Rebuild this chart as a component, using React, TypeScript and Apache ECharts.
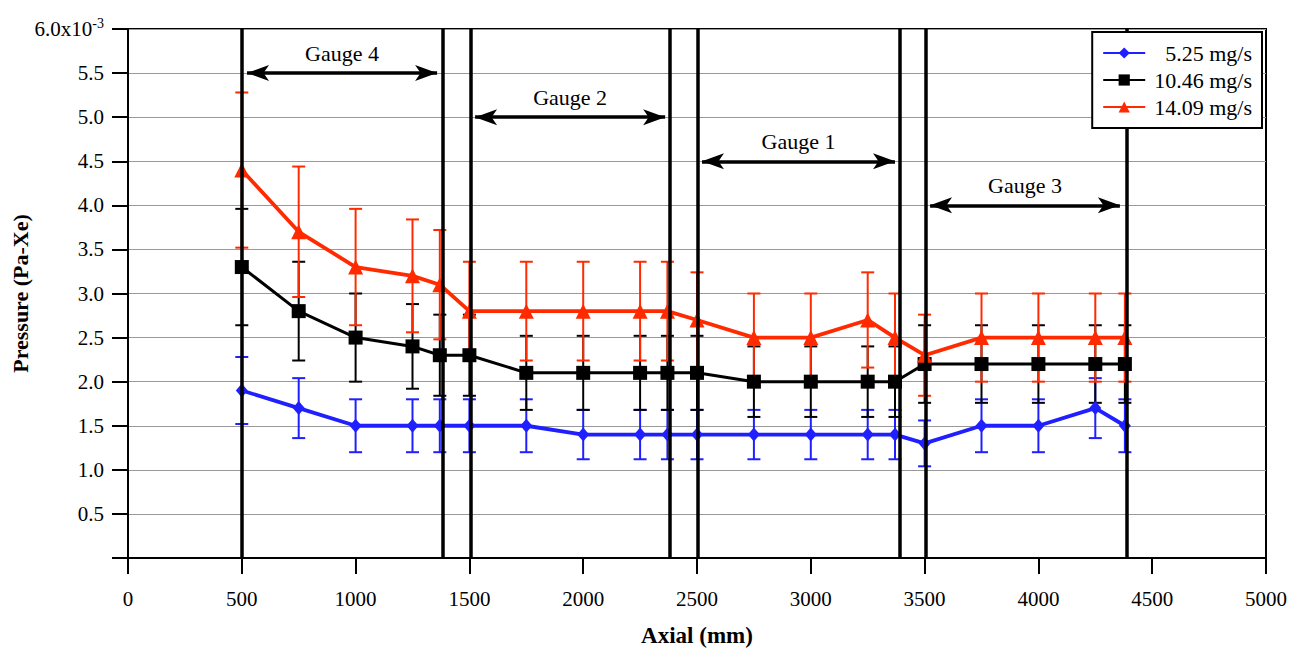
import React, { useEffect, useRef } from "react";
import * as echarts from "echarts";

const axialMm = [500, 750, 1000, 1250, 1370, 1500, 1750, 2000, 2250, 2370, 2500, 2750, 3000, 3250, 3370, 3500, 3750, 4000, 4250, 4380];

const flow525 = [1.9, 1.7, 1.5, 1.5, 1.5, 1.5, 1.5, 1.4, 1.4, 1.4, 1.4, 1.4, 1.4, 1.4, 1.4, 1.3, 1.5, 1.5, 1.7, 1.5];
const err525 = [0.38, 0.34, 0.3, 0.3, 0.3, 0.3, 0.3, 0.28, 0.28, 0.28, 0.28, 0.28, 0.28, 0.28, 0.28, 0.26, 0.3, 0.3, 0.34, 0.3];

const flow1046 = [3.3, 2.8, 2.5, 2.4, 2.3, 2.3, 2.1, 2.1, 2.1, 2.1, 2.1, 2.0, 2.0, 2.0, 2.0, 2.2, 2.2, 2.2, 2.2, 2.2];
const err1046 = [0.66, 0.56, 0.5, 0.48, 0.46, 0.46, 0.42, 0.42, 0.42, 0.42, 0.42, 0.4, 0.4, 0.4, 0.4, 0.44, 0.44, 0.44, 0.44, 0.44];

const flow1409 = [4.4, 3.7, 3.3, 3.2, 3.1, 2.8, 2.8, 2.8, 2.8, 2.8, 2.7, 2.5, 2.5, 2.7, 2.5, 2.3, 2.5, 2.5, 2.5, 2.5];
const err1409 = [0.88, 0.74, 0.66, 0.64, 0.62, 0.56, 0.56, 0.56, 0.56, 0.56, 0.54, 0.5, 0.5, 0.54, 0.5, 0.46, 0.5, 0.5, 0.5, 0.5];

const seriesNames = ["5.25 mg/s", "10.46 mg/s", "14.09 mg/s"];
const seriesColors = ["#1f1fff", "#000000", "#ff2a00"];

const gaugeBoundaries = [500, 1385, 1505, 2380, 2505, 3390, 3507, 4390];
const gaugeNames = ["Gauge 4", "Gauge 2", "Gauge 1", "Gauge 3"];
const gaugeStart = [523, 1525, 2522, 3524];
const gaugeEnd = [1358, 2360, 3370, 4358];
const gaugeLevel = [5.5, 5.0, 4.5, 4.0];

const FONT = "'Liberation Serif', 'Times New Roman', serif";

function errorSeries(name: string, vals: number[], errs: number[], color: string, lw: number) {
  const data = axialMm.map((x, i) => [x, vals[i] - errs[i], vals[i] + errs[i]]);
  return {
    type: "custom",
    name: name + " err",
    data,
    encode: { x: 0, y: [1, 2] },
    z: 3,
    renderItem: (params: any, api: any) => {
      const x = api.value(0);
      const p1 = api.coord([x, api.value(1)]);
      const p2 = api.coord([x, api.value(2)]);
      const w = 6.5;
      const style = { stroke: color, lineWidth: lw };
      return {
        type: "group",
        children: [
          { type: "line", shape: { x1: p1[0], y1: p1[1], x2: p2[0], y2: p2[1] }, style },
          { type: "line", shape: { x1: p1[0] - w, y1: p1[1], x2: p1[0] + w, y2: p1[1] }, style },
          { type: "line", shape: { x1: p2[0] - w, y1: p2[1], x2: p2[0] + w, y2: p2[1] }, style },
        ],
      };
    },
  };
}

export default function App() {
  const ref = useRef<HTMLDivElement>(null);
  useEffect(() => {
    if (!ref.current) return;
    const chart = echarts.init(ref.current, null, { renderer: "svg" });
    const valsList = [flow525, flow1046, flow1409];
    const symbols = ["diamond", "rect", "triangle"];
    const symbolSizes = [[12, 14], 14, 15];
    const widths = [3.8, 3, 3.8];

    const lineSeries = seriesNames.map((n, k) => ({
      type: "line",
      name: n,
      data: axialMm.map((x, i) => [x, valsList[k][i]]),
      symbol: symbols[k],
      symbolSize: symbolSizes[k],
      showAllSymbol: true,
      lineStyle: { color: seriesColors[k], width: widths[k] },
      itemStyle: { color: seriesColors[k] },
      z: 4,
    }));

    const boundarySeries = {
      type: "line",
      name: "boundaries",
      data: [],
      symbol: "none",
      z: 6,
      markLine: {
        silent: true,
        animation: false,
        symbol: "none",
        symbolSize: 0,
        label: { show: false },
        lineStyle: { color: "#000", width: 3.5, type: "solid" },
        data: gaugeBoundaries.map((x) => ({ xAxis: x })),
      },
    };

    const arrowSeries = {
      type: "line",
      name: "arrows",
      data: [],
      symbol: "none",
      z: 6,
      markLine: {
        silent: true,
        animation: false,
        symbol: ["arrow", "arrow"],
        symbolSize: [12, 22],
        lineStyle: { color: "#000", width: 3.5, type: "solid" },
        label: {
          show: true,
          formatter: "{b}",
          position: "insideMiddleTop",
          distance: 9,
          color: "#000",
          fontSize: 22,
          fontFamily: FONT,
        },
        data: gaugeNames.map((g, i) => [
          { name: g, coord: [gaugeStart[i], gaugeLevel[i]] },
          { coord: [gaugeEnd[i], gaugeLevel[i]] },
        ]),
      },
    };

    chart.setOption({
      animation: false,
      grid: {
        left: 128,
        right: 33,
        top: 29,
        bottom: 92,
        outerBoundsMode: "none",
        containLabel: false,
        show: true,
        borderColor: "#000",
        borderWidth: 2,
        backgroundColor: "transparent",
      },
      legend: {
        data: seriesNames,
        orient: "vertical",
        right: 37,
        top: 32,
        padding: [10, 10, 10, 10],
        itemGap: 5,
        itemWidth: 42,
        itemHeight: 14,
        borderColor: "#000",
        borderWidth: 2,
        backgroundColor: "#fff",
        z: 10,
        formatter: (name: string) => (name === "5.25 mg/s" ? "\u2007" + name : name),
        textStyle: { fontFamily: FONT, fontSize: 22, color: "#000", padding: [0, 0, 0, 4] },
      },
      xAxis: {
        type: "value",
        min: 0,
        max: 5000,
        interval: 500,
        name: "Axial (mm)",
        nameLocation: "middle",
        nameGap: 66,
        nameMoveOverlap: false,
        nameTextStyle: { fontFamily: FONT, fontSize: 23, fontWeight: "bold", color: "#000" },
        axisLine: { show: true, lineStyle: { color: "#000", width: 2 } },
        axisTick: { show: true, inside: false, length: 16, lineStyle: { color: "#000", width: 2 } },
        axisLabel: {
          fontFamily: FONT,
          fontSize: 21,
          color: "#000",
          margin: 30,
          formatter: (v: number) => String(v),
        },
        splitLine: { show: false },
      },
      yAxis: {
        type: "value",
        min: 0,
        max: 6,
        interval: 0.5,
        name: "Pressure (Pa-Xe)",
        nameLocation: "middle",
        nameGap: 97,
        nameRotate: 90,
        nameMoveOverlap: false,
        nameTextStyle: { fontFamily: FONT, fontSize: 22, fontWeight: "bold", color: "#000" },
        axisLine: { show: true, lineStyle: { color: "#000", width: 2 } },
        axisTick: { show: true, inside: false, length: 16, lineStyle: { color: "#000", width: 2 } },
        axisLabel: {
          fontFamily: FONT,
          fontSize: 21,
          color: "#000",
          margin: 24,
          formatter: (v: number) => (v === 0 ? "" : v === 6 ? "{b|6.0x10}{s|-3}" : v.toFixed(1)),
          rich: {
            b: { fontFamily: FONT, fontSize: 21, color: "#000" },
            s: { fontFamily: FONT, fontSize: 14, color: "#000", padding: [0, 0, 12, 0] },
          },
        },
        splitLine: { show: true, lineStyle: { color: "#999", width: 1 } },
      },
      series: [
        errorSeries(seriesNames[0], flow525, err525, seriesColors[0], 2),
        errorSeries(seriesNames[1], flow1046, err1046, seriesColors[1], 2),
        errorSeries(seriesNames[2], flow1409, err1409, seriesColors[2], 2),
        ...lineSeries,
        boundarySeries,
        arrowSeries,
      ],
    });
    return () => chart.dispose();
  }, []);
  return (
    <div
      ref={ref}
      style={{ position: "absolute", left: 0, top: 0, width: "1299px", height: "650px", background: "#fff" }}
    />
  );
}
